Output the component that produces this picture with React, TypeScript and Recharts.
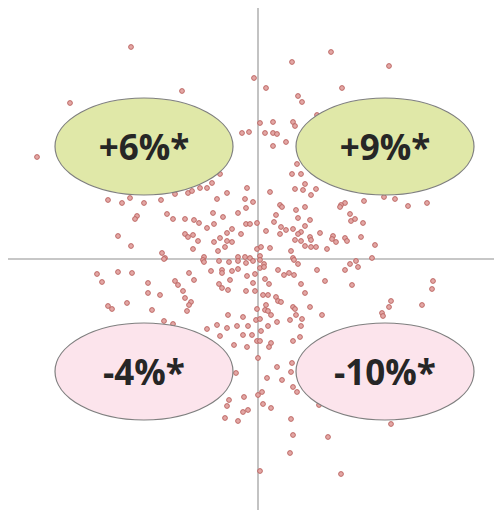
import React from "react";
import { ScatterChart, Scatter, XAxis, YAxis, ReferenceLine } from "recharts";

// point coordinates (arbitrary units, origin at axis crossing)
const upperLeft: [number, number][] = [
  [-127, 212], [-76, 168], [-188, 156], [-221, 102], [-16, 126], [-9, 127], [-4, 181],
  [-150, 59], [-136, 56], [-128, 61], [-114, 56], [-121, 43], [-123, 40], [-140, 23], [-127, 13],
  [-97, 59], [-83, 65], [-70, 66], [-66, 68], [-58, 71], [-51, 71], [-46, 76], [-38, 85],
  [-31, 66], [-41, 60], [-11, 71], [-13, 60], [-5, 57], [-12, 51], [-45, 46], [-20, 46],
  [-91, 45], [-85, 40], [-73, 40], [-64, 39], [-59, 36], [-35, 42], [-44, 35], [-51, 31],
  [-12, 35], [-8, 35], [-1, 36], [-26, 30], [-31, 26], [-17, 25], [-73, 25], [-70, 22],
  [-65, 24], [-60, 18], [-44, 17], [-38, 21], [-31, 18], [-26, 17], [-1, 10], [-33, 12],
  [-40, 8], [-65, 10], [-96, 6], [-93, 1], [-54, 2], [-20, 2], [-13, 2], [-8, 1],
];
const upperRight: [number, number][] = [
  [34, 197], [73, 207], [131, 193], [8, 171], [84, 171], [40, 163], [44, 157], [2, 136],
  [15, 137], [35, 137], [37, 133], [7, 126], [15, 126], [19, 125], [28, 117], [15, 113],
  [59, 144], [39, 95], [34, 85], [43, 85], [47, 75], [37, 70], [45, 69], [58, 70], [53, 64],
  [12, 67], [22, 54], [24, 52], [47, 52], [38, 49], [18, 44], [40, 41], [52, 39], [16, 37],
  [87, 56], [83, 54], [82, 52], [106, 58], [92, 45], [93, 38], [97, 40], [105, 36], [47, 33],
  [35, 30], [23, 32], [28, 29], [8, 28], [22, 25], [43, 27], [40, 25], [62, 26], [75, 23],
  [74, 20], [78, 17], [87, 21], [89, 18], [103, 22], [117, 14], [37, 19], [43, 18], [52, 22],
  [53, 19], [47, 13], [53, 12], [58, 12], [69, 10], [33, 8], [12, 11], [3, 12], [2, 3],
  [35, 1], [114, 1], [126, 62], [137, 60], [150, 53], [169, 56],
];
const lowerLeft: [number, number][] = [
  [-94, 0], [-55, -1], [-54, -3], [-39, -2], [-29, -3], [-20, -2], [-12, -4], [-5, -2],
  [-161, -15], [-156, -23], [-140, -13], [-126, -14], [-110, -24], [-110, -34], [-98, -36],
  [-150, -47], [-146, -50], [-131, -44], [-106, -51], [-83, -22], [-80, -26], [-75, -32],
  [-73, -39], [-67, -43], [-69, -46], [-71, -52], [-69, -14], [-64, -21], [-47, -12],
  [-36, -11], [-36, -14], [-26, -12], [-20, -10], [-11, -17], [-3, -15], [-39, -25],
  [-36, -29], [-28, -21], [-30, -31], [-12, -32], [-5, -24], [-3, -32], [-1, -50],
  [-94, -62], [-85, -65], [-30, -56], [-15, -58], [-51, -70], [-41, -66], [-31, -69],
  [-21, -67], [-10, -67], [-2, -61], [-38, -77], [-15, -76], [-6, -76], [-24, -86],
  [-11, -88], [-1, -82], [-22, -114], [-29, -141], [-31, -147], [-14, -138], [-15, -153],
  [-10, -151], [-33, -159], [-20, -162],
];
const lowerRight: [number, number][] = [
  [2, -1], [6, -5], [2, -9], [6, -8], [36, -1], [40, -5], [20, -11], [26, -16], [31, -14],
  [36, -16], [59, -11], [87, -11], [92, -5], [98, -2], [100, -8], [7, -20], [11, -25],
  [43, -25], [67, -22], [94, -26], [47, -34], [5, -36], [10, -36], [18, -38], [20, -42],
  [23, -43], [8, -46], [7, -51], [10, -52], [35, -48], [37, -50], [52, -48], [13, -56],
  [38, -56], [44, -60], [32, -61], [64, -56], [19, -63], [2, -60], [10, -67], [43, -67],
  [3, -72], [42, -78], [35, -82], [2, -82], [13, -84], [11, -88], [0, -99], [19, -108],
  [34, -104], [33, -113], [9, -119], [24, -121], [35, -128], [39, -133], [4, -133],
  [0, -136], [5, -145], [13, -149], [33, -160], [35, -176], [70, -178], [32, -194],
  [2, -212], [83, -215], [61, -146], [133, -165], [175, -22], [174, -30], [133, -42],
  [131, -48], [164, -46], [124, -54], [125, -57],
];

const quadrantLabels = ["+6%*", "+9%*", "-4%*", "-10%*"];
const quadrantX = [-114, 127, -114, 127];
const quadrantY = [112.5, 112.5, -112.5, -112.5];
const quadrantPositive = [true, true, false, false];

const points = [...upperLeft, ...upperRight, ...lowerLeft, ...lowerRight].map(([x, y]) => ({ x, y }));
const bubbles = quadrantLabels.map((label, i) => ({
  x: quadrantX[i],
  y: quadrantY[i],
  label,
  positive: quadrantPositive[i],
}));

const Dot = (props: any) => {
  const { cx, cy } = props;
  if (cx == null || cy == null) return null;
  return <circle cx={cx} cy={cy} r={2.4} fill="#e3a7a5" stroke="#b9605c" strokeWidth={0.9} />;
};

const Bubble = (props: any) => {
  const { cx, cy, payload } = props;
  if (cx == null || cy == null) return null;
  return (
    <g>
      <ellipse
        cx={cx}
        cy={cy}
        rx={89}
        ry={48.5}
        fill={payload.positive ? "#e0e8a8" : "#fce4ec"}
        stroke="#7f7f7f"
        strokeWidth={1.2}
      />
      <text
        x={cx}
        y={cy + 13}
        textAnchor="middle"
        fontFamily="'Open Sans', sans-serif"
        fontWeight={700}
        fontSize={35}
        fill="#262626"
      >
        {payload.label}
      </text>
    </g>
  );
};

export default function App() {
  return (
    <ScatterChart width={494} height={502} margin={{ top: 0, right: 0, bottom: 0, left: 0 }}>
      <XAxis type="number" dataKey="x" domain={[-250, 244]} hide allowDataOverflow />
      <YAxis type="number" dataKey="y" domain={[-251, 251]} hide allowDataOverflow />
      <ReferenceLine x={0} stroke="#b4b4b4" strokeWidth={1.6} />
      <ReferenceLine y={0} stroke="#b4b4b4" strokeWidth={1.6} />
      <Scatter data={points} shape={Dot} isAnimationActive={false} />
      <Scatter data={bubbles} shape={Bubble} isAnimationActive={false} />
    </ScatterChart>
  );
}
